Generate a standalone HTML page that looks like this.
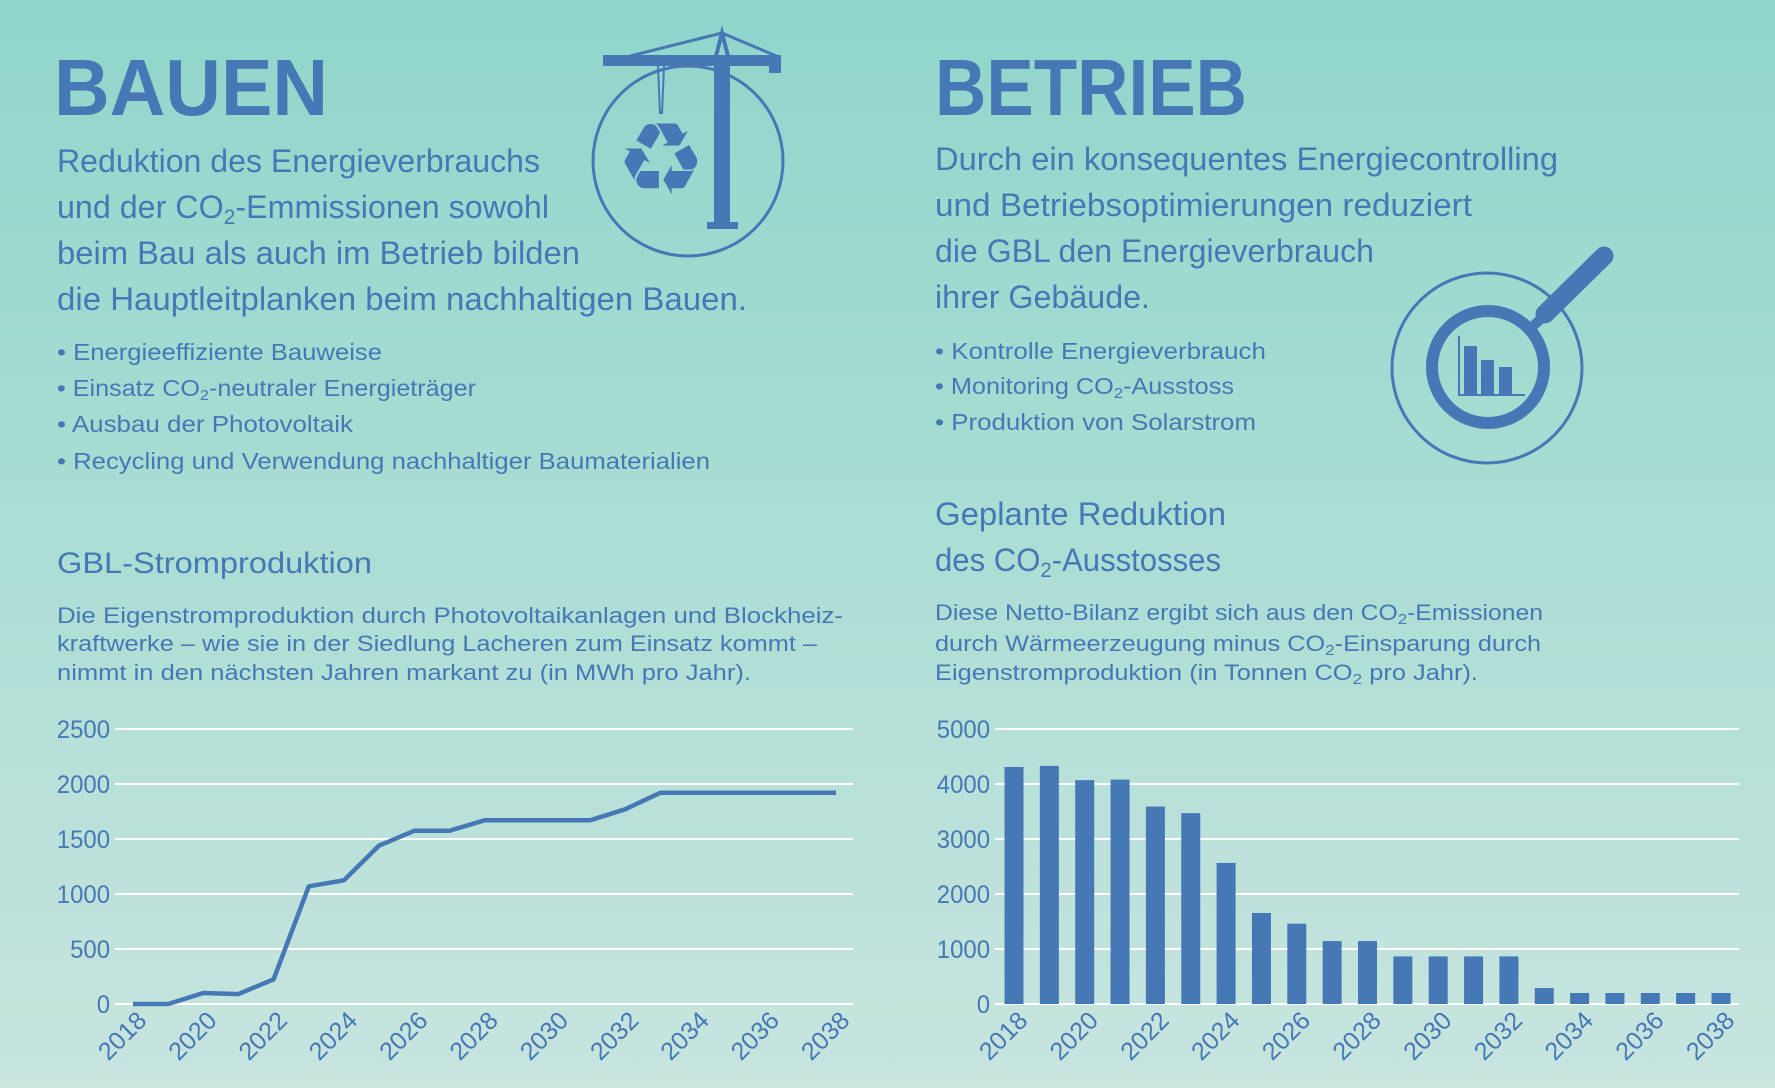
<!DOCTYPE html>
<html><head><meta charset="utf-8"><style>
html,body{margin:0;padding:0;}
body{width:1775px;height:1088px;overflow:hidden;}
svg{display:block;font-family:"Liberation Sans",sans-serif;}
.t{fill:#4778b6;}
</style></head><body>
<svg id="root" width="1775" height="1088" viewBox="0 0 1775 1088">
<defs><linearGradient id="bg" x1="0" y1="0" x2="0" y2="1"><stop offset="0" stop-color="#8fd6cb"/><stop offset="1" stop-color="#c8e5de"/></linearGradient></defs>
<rect width="1775" height="1088" fill="url(#bg)"/>

<!-- BAUEN -->
<text class="t" x="54" y="115" font-size="80" font-weight="bold" textLength="274" lengthAdjust="spacingAndGlyphs">BAUEN</text>
<g class="t" font-size="32">
<text x="57" y="172" textLength="483" lengthAdjust="spacingAndGlyphs">Reduktion des Energieverbrauchs</text>
<text x="57" y="218" textLength="492" lengthAdjust="spacingAndGlyphs">und der CO<tspan font-size="21" dy="6">2</tspan><tspan dy="-6">-Emmissionen sowohl</tspan></text>
<text x="57" y="264" textLength="523" lengthAdjust="spacingAndGlyphs">beim Bau als auch im Betrieb bilden</text>
<text x="57" y="310" textLength="690" lengthAdjust="spacingAndGlyphs">die Hauptleitplanken beim nachhaltigen Bauen.</text>
</g>
<g class="t" font-size="23">
<text x="57" y="360" textLength="325" lengthAdjust="spacingAndGlyphs">• Energieeffiziente Bauweise</text>
<text x="57" y="396" textLength="419" lengthAdjust="spacingAndGlyphs">• Einsatz CO<tspan font-size="15" dy="4">2</tspan><tspan dy="-4">-neutraler Energieträger</tspan></text>
<text x="57" y="432" textLength="296" lengthAdjust="spacingAndGlyphs">• Ausbau der Photovoltaik</text>
<text x="57" y="469" textLength="653" lengthAdjust="spacingAndGlyphs">• Recycling und Verwendung nachhaltiger Baumaterialien</text>
</g>

<!-- crane icon -->
<g fill="#4778b6" stroke="#4778b6">
<circle cx="688" cy="161" r="95" fill="none" stroke-width="3"/>
<rect x="603" y="55" width="178" height="11" stroke="none"/>
<rect x="769" y="55" width="12" height="18" stroke="none"/>
<rect x="714" y="60" width="16" height="164" stroke="none"/>
<rect x="707" y="222" width="31" height="7" stroke="none"/>
<polyline points="630,56 722,33 781,58" fill="none" stroke-width="3"/>
<polyline points="716,56 722,33 728,56" fill="none" stroke-width="4"/>
<line x1="658" y1="66" x2="660" y2="114" stroke-width="2"/>
<line x1="664" y1="66" x2="662" y2="114" stroke-width="2"/>
<text x="661" y="194" font-size="100" text-anchor="middle" stroke="none" font-family="DejaVu Sans, sans-serif">♻</text>
</g>

<!-- BETRIEB -->
<text class="t" x="935" y="115" font-size="80" font-weight="bold" textLength="312" lengthAdjust="spacingAndGlyphs">BETRIEB</text>
<g class="t" font-size="32">
<text x="935" y="170" textLength="623" lengthAdjust="spacingAndGlyphs">Durch ein konsequentes Energiecontrolling</text>
<text x="935" y="216" textLength="537" lengthAdjust="spacingAndGlyphs">und Betriebsoptimierungen reduziert</text>
<text x="935" y="262" textLength="439" lengthAdjust="spacingAndGlyphs">die GBL den Energieverbrauch</text>
<text x="935" y="308" textLength="215" lengthAdjust="spacingAndGlyphs">ihrer Gebäude.</text>
</g>
<g class="t" font-size="23">
<text x="935" y="359" textLength="331" lengthAdjust="spacingAndGlyphs">• Kontrolle Energieverbrauch</text>
<text x="935" y="394" textLength="299" lengthAdjust="spacingAndGlyphs">• Monitoring CO<tspan font-size="15" dy="4">2</tspan><tspan dy="-4">-Ausstoss</tspan></text>
<text x="935" y="430" textLength="321" lengthAdjust="spacingAndGlyphs">• Produktion von Solarstrom</text>
</g>

<!-- magnifier icon -->
<g fill="#4778b6" stroke="#4778b6">
<circle cx="1487" cy="368" r="95" fill="none" stroke-width="3"/>
<circle cx="1488" cy="367" r="56" fill="none" stroke-width="12"/>
<line x1="1530" y1="329" x2="1548" y2="312" stroke-width="10"/>
<line x1="1545" y1="314" x2="1604" y2="256" stroke-width="19" stroke-linecap="round"/>
<rect x="1464" y="346" width="13" height="49" stroke="none"/>
<rect x="1481" y="360" width="13" height="35" stroke="none"/>
<rect x="1499" y="367" width="13" height="28" stroke="none"/>
<polyline points="1459,336 1459,395 1525,395" fill="none" stroke-width="2"/>
</g>

<!-- left chart titles -->
<text class="t" x="57" y="573" font-size="30" textLength="315" lengthAdjust="spacingAndGlyphs">GBL-Stromproduktion</text>
<g class="t" font-size="22">
<text x="57" y="623" textLength="786" lengthAdjust="spacingAndGlyphs">Die Eigenstromproduktion durch Photovoltaikanlagen und Blockheiz-</text>
<text x="57" y="651" textLength="760" lengthAdjust="spacingAndGlyphs">kraftwerke – wie sie in der Siedlung Lacheren zum Einsatz kommt –</text>
<text x="57" y="680" textLength="694" lengthAdjust="spacingAndGlyphs">nimmt in den nächsten Jahren markant zu (in MWh pro Jahr).</text>
</g>

<!-- right chart titles -->
<g class="t" font-size="32">
<text x="935" y="525" textLength="291" lengthAdjust="spacingAndGlyphs">Geplante Reduktion</text>
<text x="935" y="571" textLength="286" lengthAdjust="spacingAndGlyphs">des CO<tspan font-size="21" dy="6">2</tspan><tspan dy="-6">-Ausstosses</tspan></text>
</g>
<g class="t" font-size="22">
<text x="935" y="620" textLength="608" lengthAdjust="spacingAndGlyphs">Diese Netto-Bilanz ergibt sich aus den CO<tspan font-size="15" dy="4">2</tspan><tspan dy="-4">-Emissionen</tspan></text>
<text x="935" y="651" textLength="606" lengthAdjust="spacingAndGlyphs">durch Wärmeerzeugung minus CO<tspan font-size="15" dy="4">2</tspan><tspan dy="-4">-Einsparung durch</tspan></text>
<text x="935" y="680" textLength="543" lengthAdjust="spacingAndGlyphs">Eigenstromproduktion (in Tonnen CO<tspan font-size="15" dy="4">2</tspan><tspan dy="-4"> pro Jahr).</tspan></text>
</g>

<g id="leftChart"></g>
<g id="rightChart"></g>
</svg>
<script>
const years = [2018,2019,2020,2021,2022,2023,2024,2025,2026,2027,2028,2029,2030,2031,2032,2033,2034,2035,2036,2037,2038];
const stromValues = [0,0,100,90,225,1070,1125,1440,1575,1575,1670,1670,1670,1670,1770,1920,1920,1920,1920,1920,1920];
const stromTicks = [0,500,1000,1500,2000,2500];
const co2Values = [4310,4330,4070,4080,3590,3470,2565,1655,1460,1145,1145,865,865,865,865,290,200,200,200,200,200];
const co2Ticks = [0,1000,2000,3000,4000,5000];
const yearLabels = [2018,2020,2022,2024,2026,2028,2030,2032,2034,2036,2038];

const NS = 'http://www.w3.org/2000/svg';
const COL = '#4778b6';
function mk(tag, attrs, parent){const e=document.createElementNS(NS,tag);for(const k in attrs)e.setAttribute(k,attrs[k]);parent.appendChild(e);return e;}

function drawAxes(g, ticks, maxV, yScale, gx1, gx2, labelRight, xScale){
  ticks.forEach(function(t){
    const y = yScale(t);
    const l = mk('line',{x1:gx1,x2:gx2,y1:y,y2:y,stroke:'#ffffff','stroke-width':2},g);
    
    
    const tx = mk('text',{x:labelRight,y:y+9,'text-anchor':'end','font-size':25,fill:COL,textLength:String(t).length*13.3,lengthAdjust:'spacingAndGlyphs'},g);
    tx.textContent = t;
    
    
  });
  yearLabels.forEach(function(yr){
    const x = xScale(yr)+15, y = 1022;
    const tx = mk('text',{x:x,y:y,'text-anchor':'end','font-size':25,fill:COL,transform:'rotate(-45 '+x+' '+y+')',textLength:56,lengthAdjust:'spacingAndGlyphs'},g);
    tx.textContent = yr;
    
    
  });
}

// left line chart
(function(){
  const g = document.getElementById('leftChart');
  const y0 = 1004, y1 = 729, maxV = 2500;
  const yScale = v => y0 - (v/maxV)*(y0-y1);
  const xScale = yr => 133 + (yr-2018)*((836-133)/20);
  drawAxes(g, stromTicks, maxV, yScale, 115, 853, 110, xScale);
  const pts = years.map((yr,i)=> xScale(yr).toFixed(1)+','+yScale(stromValues[i]).toFixed(1)).join(' ');
  const pl = mk('polyline',{points:pts,fill:'none',stroke:COL,'stroke-width':4.5,'stroke-linejoin':'round'},g);
  
  
})();

// right bar chart
(function(){
  const g = document.getElementById('rightChart');
  const y0 = 1004, y1 = 729, maxV = 5000;
  const yScale = v => y0 - (v/maxV)*(y0-y1);
  const xScale = yr => 1014 + (yr-2018)*((1721-1014)/20);
  drawAxes(g, co2Ticks, maxV, yScale, 995, 1739, 990, xScale);
  years.forEach(function(yr,i){
    const cx = xScale(yr), w = 19;
    const r = mk('rect',{x:cx-w/2,y:yScale(co2Values[i]),width:w,height:y0-yScale(co2Values[i]),fill:COL},g);
    
    
  });
})();
</script>
</body></html>
